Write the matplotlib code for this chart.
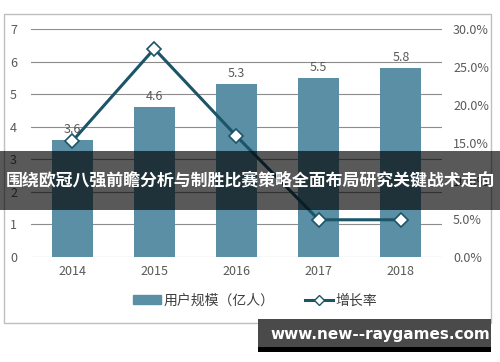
import matplotlib
matplotlib.use('Agg')
import matplotlib.pyplot as plt
from matplotlib.patches import Rectangle
from matplotlib.lines import Line2D
from matplotlib.ticker import FuncFormatter

plt.rcParams['font.family'] = ['Noto Sans CJK SC', 'DejaVu Sans']

# Dados
anos = ['2014', '2015', '2016', '2017', '2018']
usuarios = [3.6, 4.6, 5.3, 5.5, 5.8]
crescimento = [15.2, 27.4, 15.9, 4.9, 4.9]

cor_barra = '#5b8fa5'
cor_linha = '#1c5468'
cor_texto = '#595959'

fig = plt.figure(figsize=(5.0, 3.62), dpi=100)
ax = fig.add_axes([0.062, 0.290, 0.822, 0.630])

x = list(range(len(anos)))
ax.bar(x, usuarios, width=0.5, color=cor_barra, zorder=2)
for xi, v in zip(x, usuarios):
    ax.text(xi, v + 0.12, str(v), ha='center', va='bottom', fontsize=9, color=cor_texto)

ax.set_ylim(0, 7)
ax.set_xlim(-0.5, 4.5)
ax.set_yticks(range(8))
ax.yaxis.grid(True, color='#8c8c8c', linewidth=0.8, zorder=0)
ax.set_axisbelow(True)
ax.set_xticks(x)
ax.set_xticklabels(anos)
ax.tick_params(axis='both', length=0, labelsize=9, colors=cor_texto)
ax.tick_params(axis='x', pad=6)
ax.tick_params(axis='y', pad=10)
for s in ax.spines.values():
    s.set_visible(False)

ax2 = ax.twinx()
ax2.plot(x, crescimento, color=cor_linha, linewidth=2.2, marker='D', markersize=7,
         markerfacecolor='white', markeredgecolor=cor_linha, markeredgewidth=1.2, zorder=3)
ax2.set_ylim(0, 30)
ax2.set_yticks(range(0, 31, 5))
ax2.yaxis.set_major_formatter(FuncFormatter(lambda v, p: f'{v:.1f}%'))
ax2.tick_params(axis='y', length=0, labelsize=9, colors=cor_texto, pad=8)
for s in ax2.spines.values():
    s.set_visible(False)

# Legenda
h1 = Rectangle((0, 0), 1, 1, color=cor_barra)
h2 = Line2D([0], [0], color=cor_linha, linewidth=2.2, marker='D', markersize=5,
            markerfacecolor='white', markeredgecolor=cor_linha)
fig.legend([h1, h2], ['用户规模（亿人）', '增长率'], loc='center', bbox_to_anchor=(0.51, 0.17),
           ncol=2, frameon=False, fontsize=10, handlelength=2.0, handletextpad=0.2,
           columnspacing=2.2, labelcolor='#404040')

# Moldura do gráfico
fig.patches.append(Rectangle((0.008, 0.108), 0.974, 0.853, transform=fig.transFigure,
                             fill=False, edgecolor='#bfbfbf', linewidth=1))

# Faixa escura com título
fig.patches.append(Rectangle((0.0, 0.42), 1.0, 0.163, transform=fig.transFigure,
                             facecolor='black', alpha=0.65, zorder=10))
fig.text(0.5, 0.502, '围绕欧冠八强前瞻分析与制胜比赛策略全面布局研究关键战术走向',
         ha='center', va='center', color='white', fontsize=12.2, fontweight='bold', zorder=11)

# Marca d'água do site
fig.patches.append(Rectangle((0.516, 0.028), 0.466, 0.09, transform=fig.transFigure,
                             facecolor='#4a4a4a', zorder=10))
fig.patches.append(Rectangle((0.516, 0.028), 0.466, 0.014, transform=fig.transFigure,
                             facecolor='black', zorder=11))
fig.text(0.76, 0.077, 'www.new--raygames.com', ha='center', va='center', color='white',
         fontsize=11, fontweight='bold', zorder=12, family=['DejaVu Sans'])

fig.savefig('out.png', dpi=100, facecolor='white')
